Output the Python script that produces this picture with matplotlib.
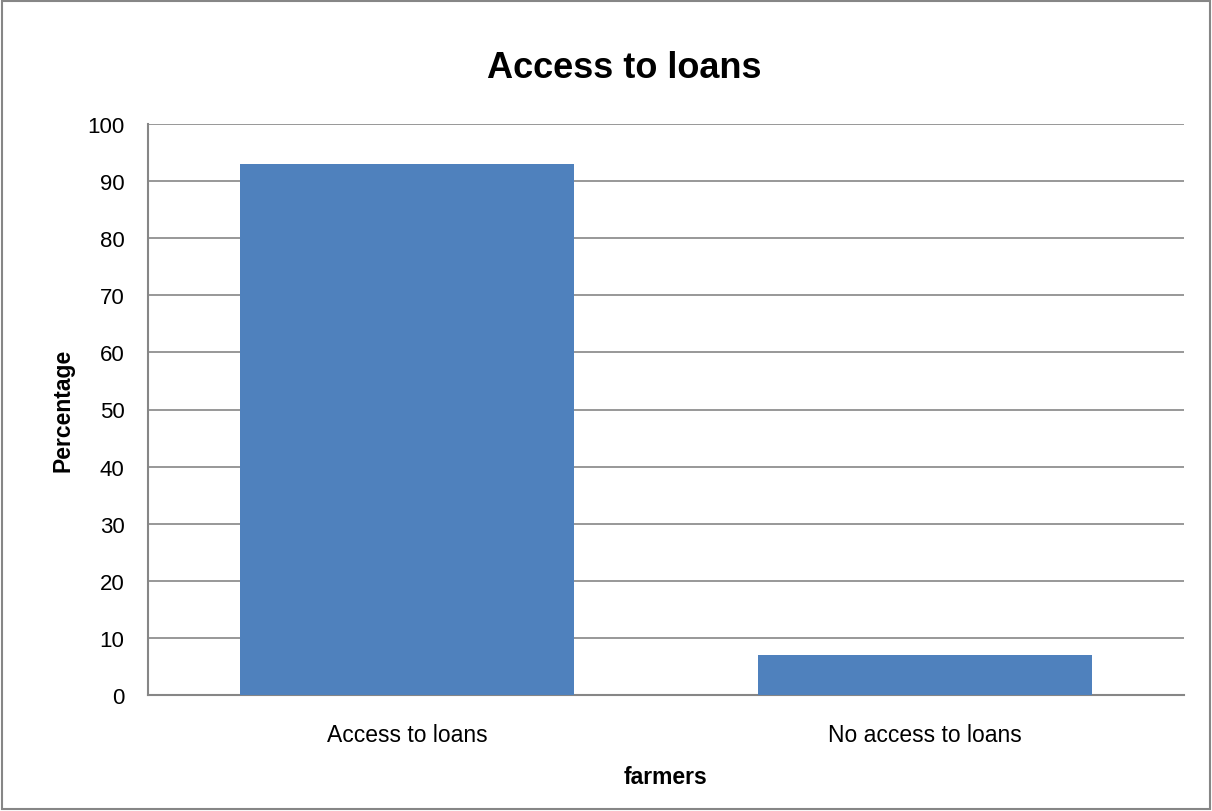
import matplotlib.pyplot as plt
from matplotlib.patches import Rectangle

categories = ["Access to loans", "No access to loans"]
percentages = [93, 7]
yticks = [0, 10, 20, 30, 40, 50, 60, 70, 80, 90, 100]

plt.rcParams['font.family'] = ['Liberation Sans', 'DejaVu Sans']

fig = plt.figure(figsize=(12.12, 8.12), dpi=100)
ax = fig.add_axes([148 / 1212, 1 - 696 / 812, 1036 / 1212, 571 / 812])

x = range(len(categories))
ax.bar(x, percentages, width=0.645, color="#4F81BD", zorder=3)

ax.set_xlim(-0.5, 1.5)
ax.set_ylim(0, 100)
ax.set_yticks(yticks)
ax.set_xticks(list(x))
ax.set_xticklabels(categories)
ax.tick_params(axis="x", length=0, pad=20, labelsize=16.5)
ax.tick_params(axis="y", length=0, pad=17, labelsize=16)

ax.grid(axis="y", color="#868686", linewidth=1.2, zorder=0)
for side in ["top", "right"]:
    ax.spines[side].set_visible(False)
for side in ["left", "bottom"]:
    ax.spines[side].set_color("#868686")
    ax.spines[side].set_linewidth(1.5)

ax.set_ylabel("Percentage", fontsize=16.5, fontweight="bold", labelpad=9)
ax.set_xlabel("farmers", fontsize=16.5, fontweight="bold", labelpad=14)
fig.text(624 / 1212, 1 - 68 / 812, "Access to loans", fontsize=26,
         fontweight="bold", ha="center", va="center")

fig.patches.append(Rectangle((0.002, 0.002), 0.996, 0.996, transform=fig.transFigure,
                             fill=False, edgecolor="#868686", linewidth=1.5))

fig.savefig("out.png", dpi=100)
